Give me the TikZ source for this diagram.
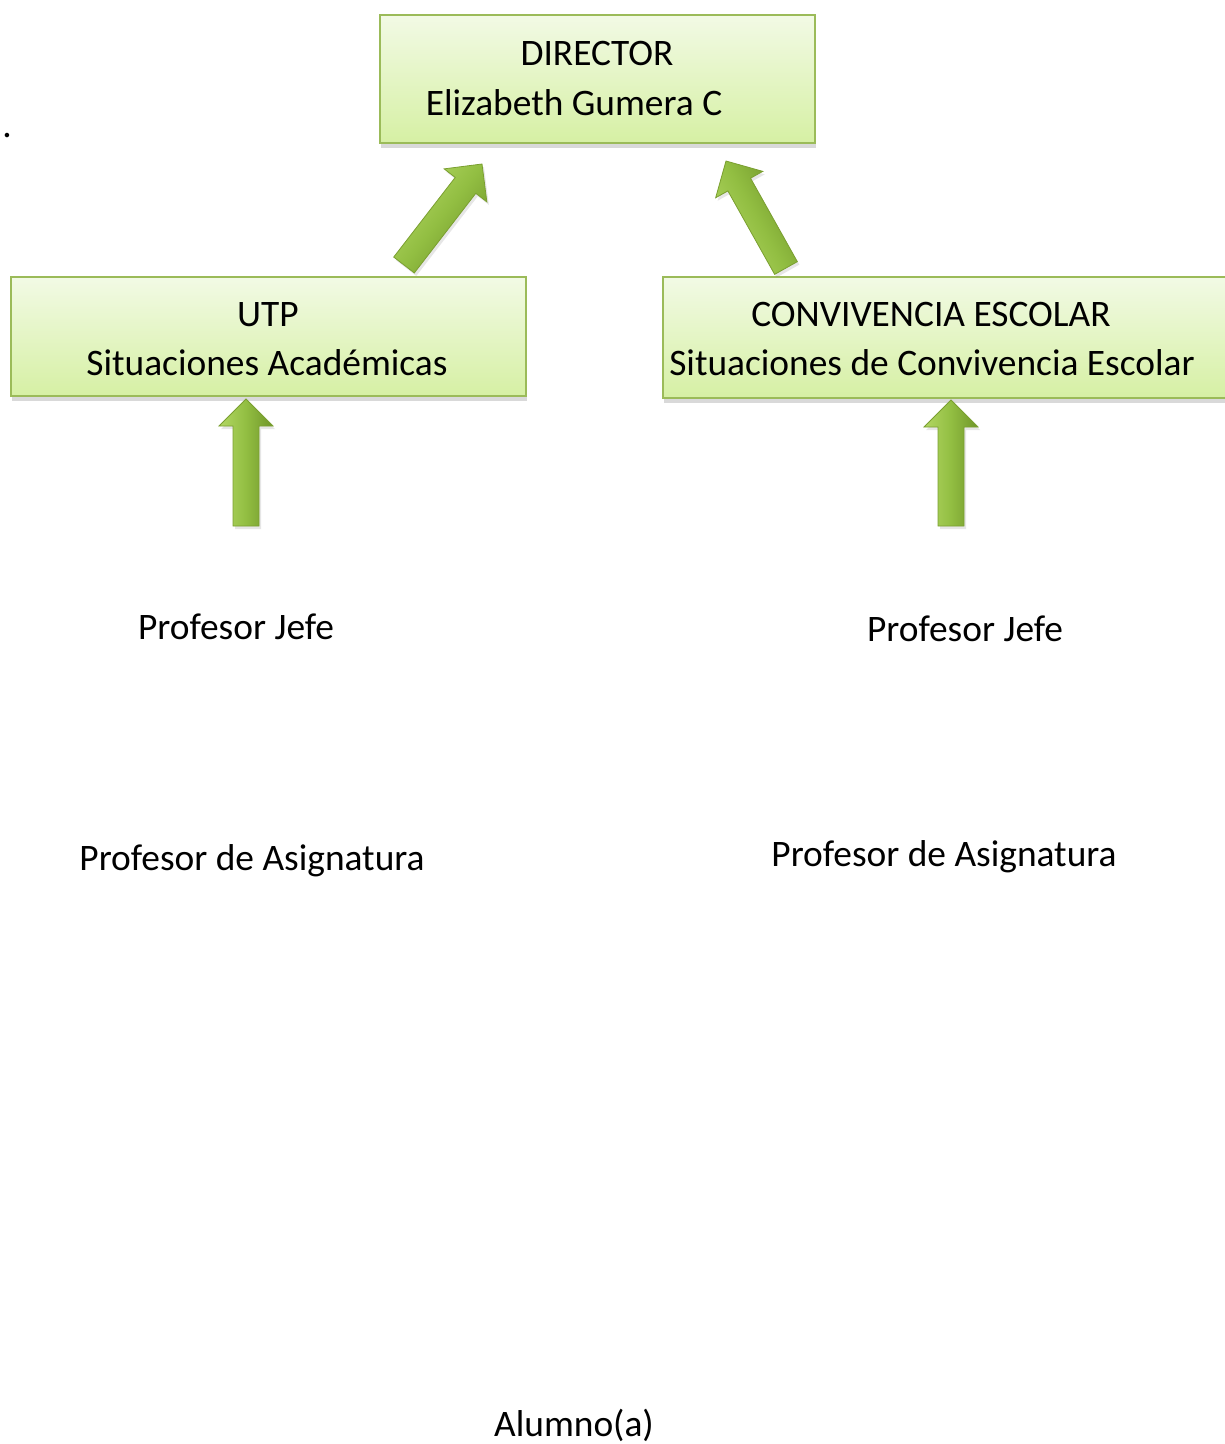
\documentclass[tikz,border=0pt]{standalone}
\usepackage{fontspec}
\setmainfont{Carlito}
\usetikzlibrary{calc,shadows}
\definecolor{boxtop}{HTML}{F2FAE5}
\definecolor{boxbot}{HTML}{D6F0A4}
\definecolor{boxline}{HTML}{9BBB59}
\definecolor{arrl}{HTML}{B2D763}
\definecolor{arrm}{HTML}{92BE42}
\definecolor{arrr}{HTML}{6F9529}
\definecolor{arrline}{HTML}{7A9F30}
\newcommand\grarrow[3]{%
  \coordinate (#1n) at ($(#2)!27pt!(#1)$);
  \draw[arr,#3] ($(#1)!13pt!90:(#2)$) -- ($(#1n)!13pt!90:(#2)$) -- ($(#1n)!27pt!90:(#2)$) -- (#2)
     -- ($(#1n)!27pt!-90:(#2)$) -- ($(#1n)!13pt!-90:(#2)$) -- ($(#1)!13pt!-90:(#2)$) -- cycle;}
\begin{document}
\begin{tikzpicture}[x=1pt,y=-1pt,
  box/.style={draw=boxline, line width=1.5pt, top color=boxtop, bottom color=boxbot,
    drop shadow={shadow xshift=1pt, shadow yshift=-5pt, opacity=0.3}, inner sep=0pt, anchor=north west},
  txt/.style={font=\fontsize{37.4}{45}\selectfont, inner sep=0pt, anchor=base},
  arr/.style={draw=arrline, line width=0.8pt, left color=arrl, right color=arrr, middle color=arrm,
    drop shadow={shadow xshift=2pt, shadow yshift=-3pt, opacity=0.2}}]
\useasboundingbox (0,0) rectangle (1225,1444);
% boxes
\node[box, minimum width=435pt, minimum height=128pt] (dir) at (379,14) {};
\node[box, minimum width=515pt, minimum height=119pt] (utp) at (10,276) {};
\node[box, minimum width=580pt, minimum height=121pt] (conv) at (662,276) {};
% box texts
\node[txt] (dirt1) at (597,65) {DIRECTOR};
\node[txt] (dirt2) at (574,115) {Elizabeth Gumera C};
\node[txt] (utpt1) at (268,326) {UTP};
\node[txt] (utpt2) at (267,375) {Situaciones Académicas};
\node[txt] (convt1) at (931,326) {CONVIVENCIA ESCOLAR};
\node[txt] (convt2) at (932,375) {Situaciones de Convivencia Escolar};
% free texts
\node[txt] (dot) at (7,137) {.};
\node[txt] (pj1) at (236,639) {Profesor Jefe};
\node[txt] (pj2) at (965,641) {Profesor Jefe};
\node[txt] (pa1) at (252,870) {Profesor de Asignatura};
\node[txt] (pa2) at (944,866) {Profesor de Asignatura};
\node[txt] (alu) at (574,1436) {Alumno(a)};
% arrows
\coordinate (a1t) at (404,265); \coordinate (a1h) at (482,164);
\coordinate (a2t) at (786,268); \coordinate (a2h) at (726,161);
\coordinate (a3t) at (246,526); \coordinate (a3h) at (246,399);
\coordinate (a4t) at (951,526); \coordinate (a4h) at (951,400);
\grarrow{a1t}{a1h}{shading angle=52}
\grarrow{a2t}{a2h}{shading angle=119}
\grarrow{a3t}{a3h}{}
\grarrow{a4t}{a4h}{}
\end{tikzpicture}
\end{document}
